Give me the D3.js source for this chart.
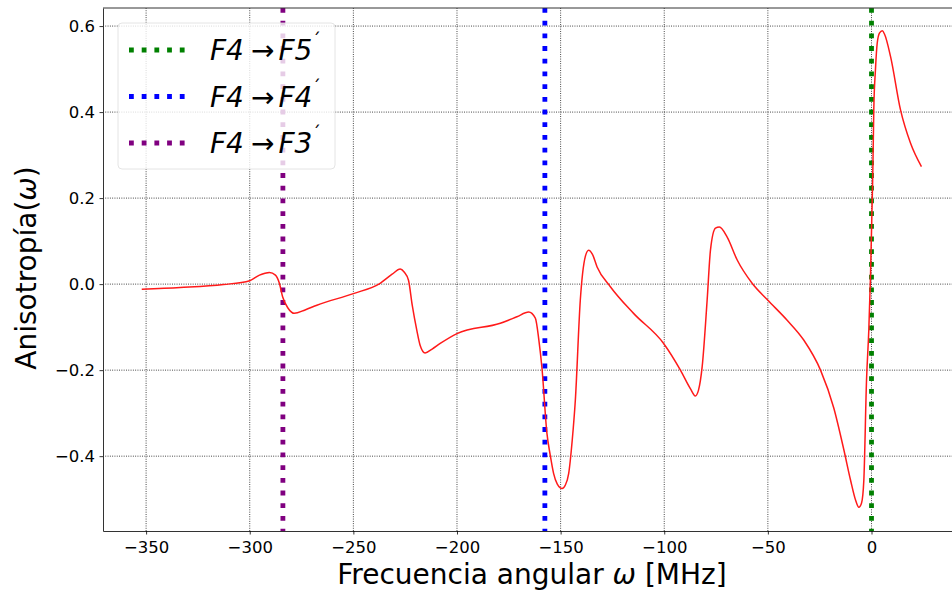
<!DOCTYPE html>
<html>
<head>
<meta charset="utf-8">
<script src="https://cdn.jsdelivr.net/npm/d3@7"></script>
<style>
  body { margin: 0; background: #fff; }
  svg { display: block; font-family: "DejaVu Sans", sans-serif; }
</style>
</head>
<body>
<div id="container"></div>
<script>
const width = 952,
  height = 591,
  margin = {top: 8, bottom: 60, left: 103, right: -8};

// frequency (MHz) and anisotropy
const freq = [-352.1, -333.6, -312.7, -300, -295.3, -290.5, -287.6, -285.7, -284.1, -281.5,
  -278.5, -273.3, -267.6, -250, -237.1, -231.3, -227.4, -225.5, -223.4, -221.6,
  -219.4, -217.8, -215.4, -212, -208.1, -200, -179.1, -171.1, -165.4, -162.2,
  -160.5, -159, -156.6, -155, -153.4, -151.6, -149.3, -147.7, -146.1, -144.4,
  -142.9, -140.5, -138.1, -136.5, -134.7, -132.4, -126, -114.8, -100.3, -92.2,
  -87.4, -85, -83.5, -81.7, -79.3, -77.7, -75.3, -73.4, -69.7, -64.8,
  -57.6, -50.1, -40.7, -32.7, -24.6, -18.2, -13.4, -10.1, -7.7, -6.1,
  -4.8, -3.7, -2.4, -1.3, -0.5, 0.6, 1.1, 1.9, 2.75, 3.9,
  5.2, 6.3, 9.2, 14, 18.8, 24.1];
const anis = [-0.012, -0.008, -0.001, 0.008, 0.021, 0.027, 0.021, 0.002, -0.030, -0.056,
  -0.068, -0.060, -0.049, -0.022, 0.002, 0.023, 0.035, 0.028, 0.009, -0.049,
  -0.107, -0.142, -0.160, -0.151, -0.138, -0.115, -0.091, -0.076, -0.065, -0.079,
  -0.130, -0.195, -0.347, -0.398, -0.440, -0.465, -0.475, -0.467, -0.440, -0.363,
  -0.270, -0.037, 0.064, 0.079, 0.070, 0.040, -0.006, -0.068, -0.138, -0.200,
  -0.243, -0.260, -0.247, -0.192, -0.037, 0.079, 0.130, 0.133, 0.110, 0.056,
  0.002, -0.037, -0.084, -0.130, -0.200, -0.288, -0.384, -0.456, -0.502, -0.519,
  -0.509, -0.456, -0.223, -0.107, 0.016, 0.250, 0.405, 0.498, 0.560, 0.584,
  0.589, 0.581, 0.529, 0.405, 0.328, 0.273];

const transitions = ["F5", "F4", "F3"];
const transitionFreq = [0, -157.6, -284];
const transitionColor = ["green", "blue", "purple"];

const xTicks = [-350, -300, -250, -200, -150, -100, -50, 0];
const yTicks = [-0.4, -0.2, 0.0, 0.2, 0.4, 0.6];

const points = freq.map((f, i) => ({f: f, a: anis[i]}));

const xScale = d3.scaleLinear()
  .domain([-370.8, 42.7])
  .range([margin.left, width - margin.right]);

const yScale = d3.scaleLinear()
  .domain([-0.574, 0.642])
  .range([height - margin.bottom, margin.top]);

const svg = d3.select("#container")
  .append("svg")
  .attr("width", width)
  .attr("height", height);

// grid
svg.append("g")
  .selectAll("line")
  .data(xTicks)
  .join("line")
  .attr("x1", d => xScale(d)).attr("x2", d => xScale(d))
  .attr("y1", margin.top).attr("y2", height - margin.bottom)
  .attr("stroke", "#000").attr("stroke-width", 0.8)
  .attr("stroke-dasharray", "0.9,1.4");

svg.append("g")
  .selectAll("line")
  .data(yTicks)
  .join("line")
  .attr("x1", margin.left).attr("x2", width - margin.right)
  .attr("y1", d => yScale(d)).attr("y2", d => yScale(d))
  .attr("stroke", "#000").attr("stroke-width", 0.8)
  .attr("stroke-dasharray", "0.9,1.4");

// transition lines
svg.append("g")
  .selectAll("line")
  .data(transitionFreq)
  .join("line")
  .attr("x1", d => xScale(d)).attr("x2", d => xScale(d))
  .attr("y1", margin.top).attr("y2", height - margin.bottom)
  .attr("stroke", (d, i) => transitionColor[i])
  .attr("stroke-width", 4.8)
  .attr("stroke-dasharray", "4.8,7.9");

// curve
const line = d3.line()
  .x(d => xScale(d.f))
  .y(d => yScale(d.a))
  .curve(d3.curveMonotoneX);

svg.append("path")
  .datum(points)
  .attr("d", line)
  .attr("fill", "none")
  .attr("stroke", "#ff1a1a")
  .attr("stroke-width", 1.5);

// axes
const xAxis = d3.axisBottom(xScale)
  .tickValues(xTicks)
  .tickSizeInner(3.5)
  .tickSizeOuter(0)
  .tickFormat(d => d3.format("d")(d).replace("-", "\u2212"));
const yAxis = d3.axisLeft(yScale)
  .tickValues(yTicks)
  .tickSizeInner(3.5)
  .tickSizeOuter(0)
  .tickFormat(d => d3.format(".1f")(d).replace("-", "\u2212"));

const xAxisGroup = svg.append("g")
  .attr("transform", `translate(0,${height - margin.bottom})`)
  .call(xAxis);
const yAxisGroup = svg.append("g")
  .attr("transform", `translate(${margin.left},0)`)
  .call(yAxis);

[xAxisGroup, yAxisGroup].forEach(g => {
  g.select(".domain").attr("stroke", "#333").attr("stroke-width", 1);
  g.selectAll(".tick line").attr("stroke", "#000").attr("stroke-width", 0.8);
  g.selectAll(".tick text")
    .attr("font-family", "DejaVu Sans")
    .attr("font-size", 16.5)
    .attr("fill", "#000");
});
xAxisGroup.selectAll(".tick text").attr("dy", "0.95em");
yAxisGroup.selectAll(".tick text").attr("x", -8);

// top spine
svg.append("line")
  .attr("x1", margin.left).attr("x2", width)
  .attr("y1", margin.top).attr("y2", margin.top)
  .attr("stroke", "#333").attr("stroke-width", 1);

// axis labels
const xLabel = svg.append("text")
  .attr("x", 532).attr("y", 584)
  .attr("text-anchor", "middle")
  .attr("font-size", 28);
xLabel.append("tspan").text("Frecuencia angular ");
xLabel.append("tspan").attr("font-style", "italic").text("\u03c9");
xLabel.append("tspan").text(" [MHz]");

const yLabel = svg.append("text")
  .attr("transform", "translate(36,268) rotate(-90)")
  .attr("text-anchor", "middle")
  .attr("font-size", 28);
yLabel.append("tspan").text("Anisotrop\u00eda(");
yLabel.append("tspan").attr("font-style", "italic").text("\u03c9");
yLabel.append("tspan").text(")");

// legend
const legend = svg.append("g");
legend.append("rect")
  .attr("x", 118).attr("y", 23)
  .attr("width", 217).attr("height", 146)
  .attr("rx", 4)
  .attr("fill", "#fff").attr("fill-opacity", 0.8)
  .attr("stroke", "#ddd").attr("stroke-width", 0.8);

const items = legend.selectAll("g.item")
  .data(transitions)
  .join("g")
  .attr("class", "item")
  .attr("transform", (d, i) => `translate(0,${50 + i * 46.5})`);

items.append("line")
  .attr("x1", 129).attr("x2", 186)
  .attr("stroke", (d, i) => transitionColor[i])
  .attr("stroke-width", 4.8)
  .attr("stroke-dasharray", "4.8,7.9");

const lt = items.append("text")
  .attr("x", 210).attr("y", 10)
  .attr("font-size", 28);
lt.append("tspan").attr("font-style", "italic").text("F4");
lt.append("tspan").attr("dx", 7).text("\u2192");
lt.append("tspan").attr("dx", 4).attr("font-style", "italic").text(d => d);
lt.append("tspan").attr("font-size", 17).attr("dy", -14).text("\u00b4");
</script>
</body>
</html>
